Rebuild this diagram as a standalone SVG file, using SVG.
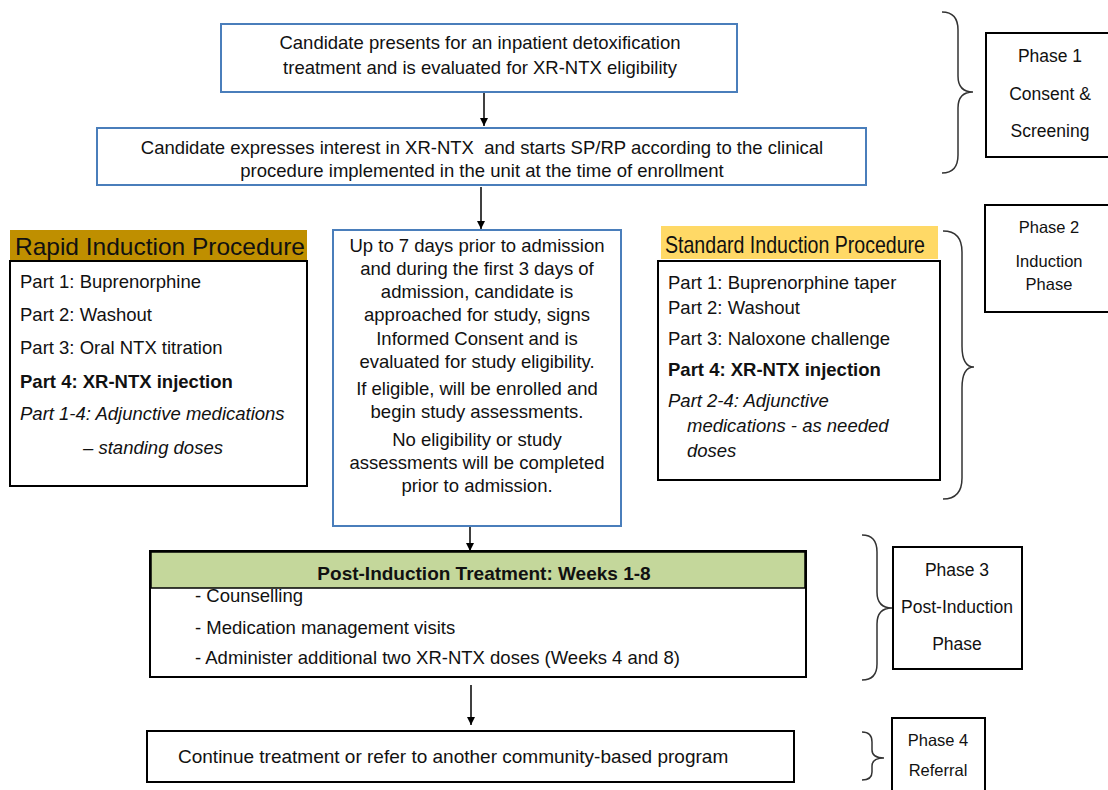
<svg xmlns="http://www.w3.org/2000/svg" width="1108" height="790" viewBox="0 0 1108 790">
<defs>
<marker id="ah" viewBox="0 0 10 10" refX="10" refY="5" markerWidth="8" markerHeight="8" markerUnits="userSpaceOnUse" orient="auto">
<path d="M0,0 L10,5 L0,10 z" fill="#000"/>
</marker>
</defs>
<style>
text{font-family:"Liberation Sans",Arial,sans-serif;font-size:18.5px;fill:#111}
.c{text-anchor:middle}
.b{font-weight:bold}
.i{font-style:italic}
.blue{fill:#fff;stroke:#4a7ebb;stroke-width:2}
.blk{fill:#fff;stroke:#000;stroke-width:2}
.brace{fill:none;stroke:#333;stroke-width:1.5}
.conn{stroke:#000;stroke-width:1.5;fill:none;marker-end:url(#ah)}
.hd{font-size:24px}
.ph{font-size:17.5px}
.ps{font-size:16.5px}
</style>
<g id="connectors">
<line class="conn" x1="484" y1="93" x2="484" y2="126"/>
<line class="conn" x1="481" y1="187" x2="481" y2="229"/>
<line class="conn" x1="470" y1="515" x2="470" y2="551"/>
<line class="conn" x1="471" y1="685" x2="471" y2="725"/>
</g>
<g id="n1">
<rect class="blue" x="221" y="24" width="516" height="68"/>
<text class="c" x="480" y="49">Candidate presents for an inpatient detoxification</text>
<text class="c" x="480" y="74">treatment and is evaluated for XR-NTX eligibility</text>
</g>
<g id="n2">
<rect class="blue" x="97" y="128" width="769" height="57"/>
<text class="c" x="482" y="154" xml:space="preserve">Candidate expresses interest in XR-NTX  and starts SP/RP according to the clinical</text>
<text class="c" x="482" y="177">procedure implemented in the unit at the time of enrollment</text>
</g>
<g id="rapid">
<rect x="10" y="230" width="297" height="31" fill="#bf8f00"/>
<text class="hd" x="15" y="255" textLength="290" lengthAdjust="spacingAndGlyphs">Rapid Induction Procedure</text>
<rect class="blk" x="10" y="261" width="297" height="225"/>
<text x="20" y="288">Part 1: Buprenorphine</text>
<text x="20" y="321">Part 2: Washout</text>
<text x="20" y="354">Part 3: Oral NTX titration</text>
<text class="b" x="20" y="388">Part 4: XR-NTX injection</text>
<text class="i" x="20" y="420">Part 1-4: Adjunctive medications</text>
<text class="i c" x="153" y="454">– standing doses</text>
</g>
<g id="middle">
<rect class="blue" x="333" y="230" width="288" height="296"/>
<text class="c" x="477" y="252">Up to 7 days prior to admission</text>
<text class="c" x="477" y="275">and during the first 3 days of</text>
<text class="c" x="477" y="298">admission, candidate is</text>
<text class="c" x="477" y="321">approached for study, signs</text>
<text class="c" x="477" y="345">Informed Consent and is</text>
<text class="c" x="477" y="368">evaluated for study eligibility.</text>
<text class="c" x="477" y="395">If eligible, will be enrolled and</text>
<text class="c" x="477" y="418">begin study assessments.</text>
<text class="c" x="477" y="446">No eligibility or study</text>
<text class="c" x="477" y="469">assessments will be completed</text>
<text class="c" x="477" y="492">prior to admission.</text>
</g>
<g id="standard">
<rect x="661" y="226" width="277" height="33" fill="#ffd966"/>
<text class="hd" x="665" y="253" textLength="260" lengthAdjust="spacingAndGlyphs">Standard Induction Procedure</text>
<rect class="blk" x="658" y="261" width="282" height="219"/>
<text x="668" y="289">Part 1: Buprenorphine taper</text>
<text x="668" y="314">Part 2: Washout</text>
<text x="668" y="345">Part 3: Naloxone challenge</text>
<text class="b" x="668" y="376">Part 4: XR-NTX injection</text>
<text class="i" x="668" y="407">Part 2-4: Adjunctive</text>
<text class="i" x="687" y="432">medications - as needed</text>
<text class="i" x="687" y="457">doses</text>
</g>
<g id="post">
<rect class="blk" x="150" y="551" width="656" height="126"/>
<rect x="151" y="552" width="654" height="36" fill="#c4d79b" stroke="#000" stroke-width="1.5"/>
<text class="b c" x="484" y="580" style="font-size:19px">Post-Induction Treatment: Weeks 1-8</text>
<text x="195" y="602">- Counselling</text>
<text x="195" y="634">- Medication management visits</text>
<text x="195" y="664">- Administer additional two XR-NTX doses (Weeks 4 and 8)</text>
</g>
<g id="final">
<rect class="blk" x="147" y="731" width="647" height="51"/>
<text x="178" y="763" style="font-size:19px">Continue treatment or refer to another community-based program</text>
</g>
<g id="phase1">
<path class="brace" d="M942,12 Q958,12 958,30 L958,76 Q958,92 973,92 Q958,92 958,108 L958,155 Q958,173 942,173"/>
<rect class="blk" x="986" y="33" width="124" height="124"/>
<text class="c ph" x="1050" y="62">Phase 1</text>
<text class="c ph" x="1050" y="100">Consent &amp;</text>
<text class="c ph" x="1050" y="137">Screening</text>
</g>
<g id="phase2">
<path class="brace" d="M943,231 Q962,231 962,252 L962,346 Q962,367 974,367 Q962,367 962,388 L962,478 Q962,499 943,499"/>
<rect class="blk" x="985" y="205" width="125" height="107"/>
<text class="c ps" x="1049" y="233">Phase 2</text>
<text class="c ps" x="1049" y="267">Induction</text>
<text class="c ps" x="1049" y="290">Phase</text>
</g>
<g id="phase3">
<path class="brace" d="M862,535 Q877,535 877,552 L877,592 Q877,608 892,608 Q877,608 877,624 L877,664 Q877,680 862,680"/>
<rect class="blk" x="893" y="547" width="129" height="122"/>
<text class="c ph" x="957" y="576">Phase 3</text>
<text class="c ph" x="957" y="613">Post-Induction</text>
<text class="c ph" x="957" y="650">Phase</text>
</g>
<g id="phase4">
<path class="brace" d="M862,732 Q872,732 872,742 L872,750 Q872,758 884,758 Q872,758 872,766 L872,772 Q872,780 862,780"/>
<rect class="blk" x="892" y="718" width="93" height="80"/>
<text class="c ps" x="938" y="746">Phase 4</text>
<text class="c ps" x="938" y="776">Referral</text>
</g>
</svg>
